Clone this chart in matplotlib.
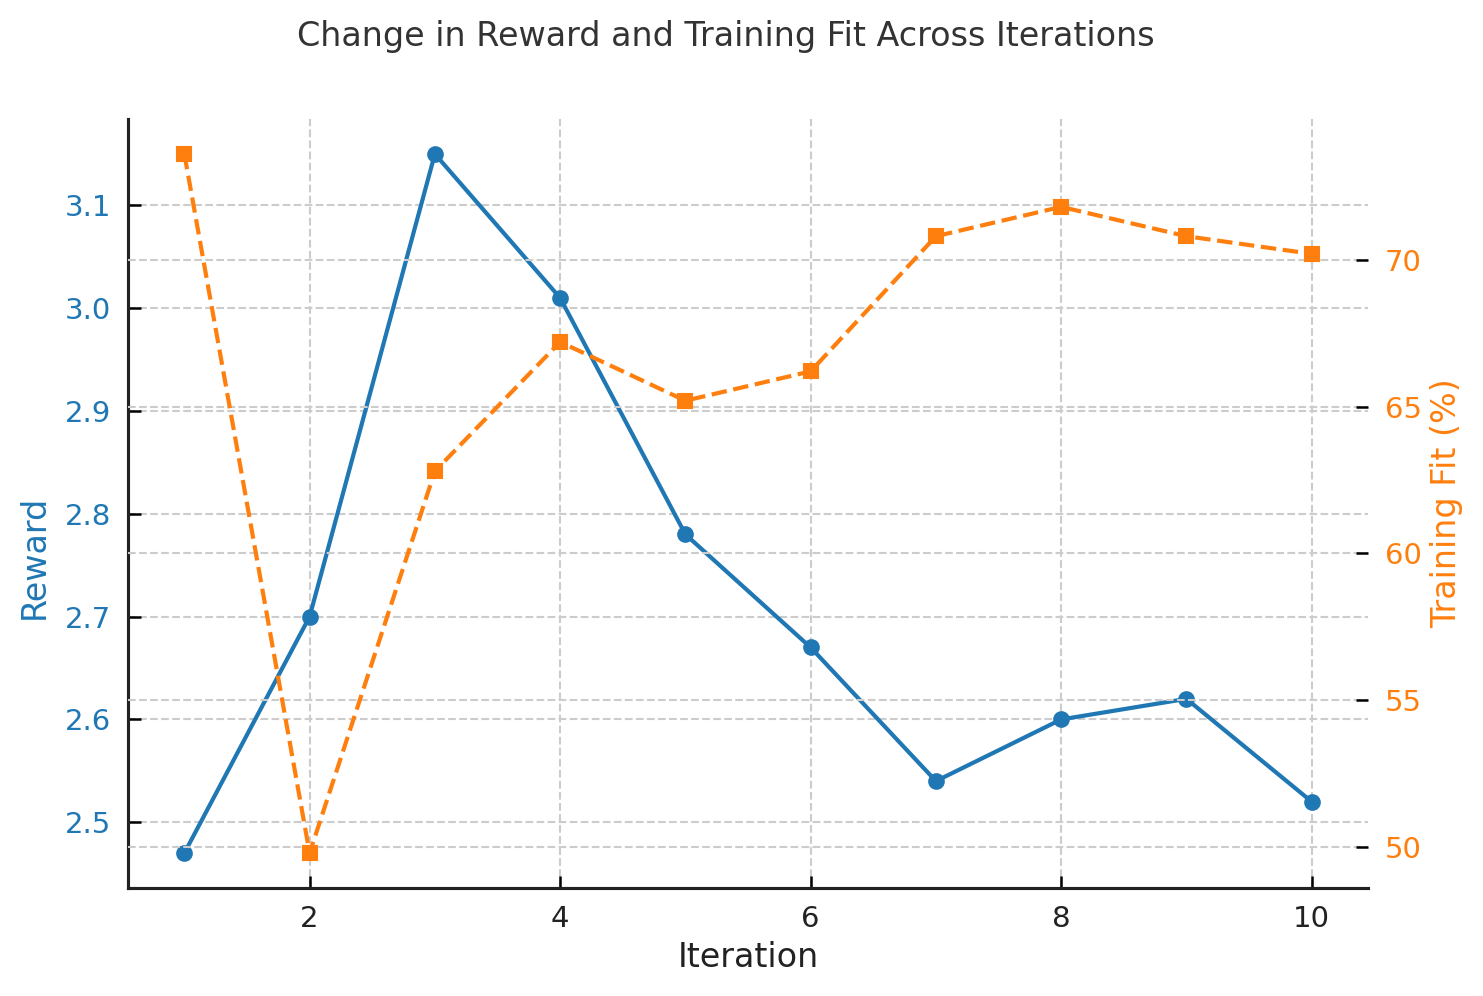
import matplotlib.pyplot as plt
import numpy as np

iterations = [1, 2, 3, 4, 5, 6, 7, 8, 9, 10]
reward = [2.47, 2.70, 3.15, 3.01, 2.78, 2.67, 2.54, 2.60, 2.62, 2.52]
training_fit = [73.6, 49.8, 62.8, 67.2, 65.2, 66.2, 70.8, 71.8, 70.8, 70.2]

blue = "#1f77b4"
orange = "#ff7f0e"
text_col = "#222222"

plt.rcParams["font.family"] = "DejaVu Sans"

fig, ax1 = plt.subplots(figsize=(1483 / 150, 996 / 150), dpi=150)
fig.subplots_adjust(left=0.0863, right=0.9225, top=0.8805, bottom=0.1084)

ax1.plot(iterations, reward, color=blue, marker="o", lw=2, markersize=7, label="Reward")
ax1.set_xlabel("Iteration", fontsize=16, color=text_col)
ax1.set_ylabel("Reward", fontsize=16, color=blue)
ax1.yaxis.set_label_coords(-0.062, 0.43)
ax1.tick_params(axis="y", labelcolor=blue, direction="in", labelsize=14, length=6, width=1.2, pad=8)
ax1.tick_params(axis="x", labelcolor=text_col, direction="in", labelsize=14, length=6, width=1.2, pad=8)
ax1.grid(True, linestyle="--", color="#cccccc", lw=1)
ax1.set_xticks([2, 4, 6, 8, 10])

# second axis for the training fit
ax2 = ax1.twinx()
ax2.plot(iterations, training_fit, color=orange, marker="s", lw=2, ls="--", markersize=7, label="Training Fit")
ax2.set_ylabel("Training Fit (%)", fontsize=16, color=orange)
ax2.tick_params(axis="y", labelcolor=orange, direction="in", labelsize=14, length=6, width=1.2, pad=8)
ax2.grid(True, linestyle="--", color="#cccccc", lw=1)

for ax in (ax1, ax2):
    ax.spines["top"].set_visible(False)
    ax.spines["right"].set_visible(False)
ax2.spines["left"].set_visible(False)
ax2.spines["bottom"].set_visible(False)
ax1.spines["left"].set_linewidth(1.5)
ax1.spines["bottom"].set_linewidth(1.5)
ax1.spines["left"].set_color(text_col)
ax1.spines["bottom"].set_color(text_col)

fig.suptitle("Change in Reward and Training Fit Across Iterations", fontsize=16, color="#333333",
             x=0.4896, y=0.963, va="center")

plt.savefig("out.png", dpi=150)
